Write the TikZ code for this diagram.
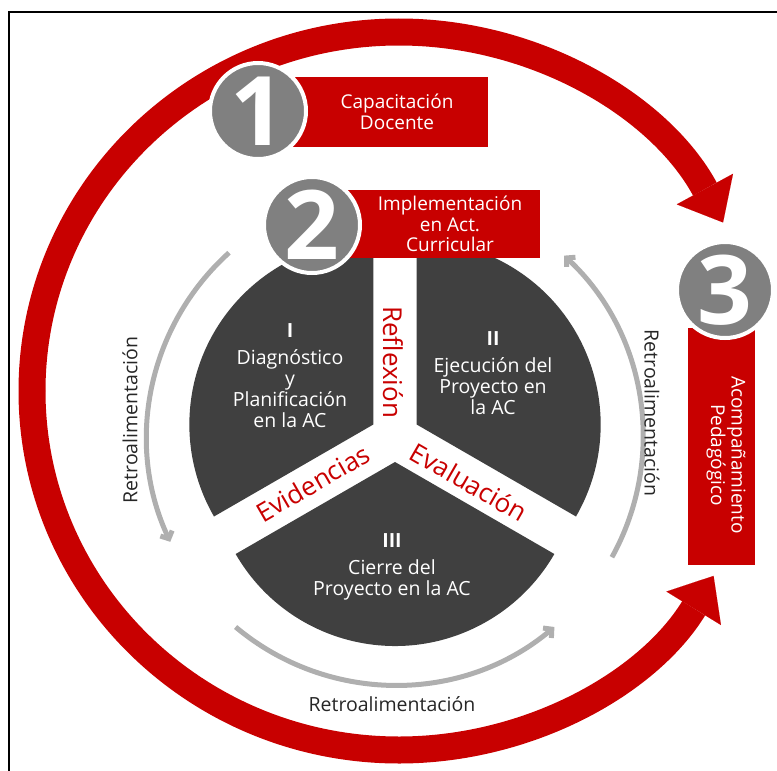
\documentclass[tikz,border=0pt]{standalone}
\usepackage{fontspec}
\setmainfont{Open Sans}
\usepackage{color}
\usetikzlibrary{arrows.meta}

\definecolor{acred}{RGB}{200,0,0}
\definecolor{numgrey}{RGB}{128,128,128}
\definecolor{secgrey}{RGB}{64,64,64}
\definecolor{fbgrey}{RGB}{175,175,175}

\tikzset{
  ring/.style={acred, line width=27pt, -{Triangle[length=38pt,width=64pt,line width=0.01pt]}},
  fback/.style={fbgrey, line width=5pt, -{Straight Barb[length=6pt,width=13pt]}},
  sector/.style={fill=secgrey},
  numcirc/.style={circle, fill=numgrey, draw=white, line width=4pt, minimum size=96pt,
    inner sep=0pt, text=white, font=\fontsize{96}{96}\selectfont\bfseries},
  redbox/.style={fill=acred, inner sep=0pt},
  boxtext/.style={text=white, align=center, font=\fontsize{19}{20.5}\selectfont},
  sectext/.style={text=white, align=center, font=\fontsize{19.5}{21}\selectfont},
  gaptext/.style={text=acred, font=\fontsize{26}{26}\selectfont},
  fbtext/.style={text=black!85, font=\fontsize{19.5}{19.5}\selectfont}
}

\begin{document}
\begin{tikzpicture}[x=1pt,y=1pt]
\useasboundingbox (0,0) rectangle (777,-771);
%% marco
\draw[line width=2.5pt] (9,-771) -- (9,-12) -- (777,-12);
\coordinate (rc) at (399,-391);
\coordinate (pc) at (395,-437);
%% anillo rojo
\draw[ring] (rc) ++(180:367 and 359) arc[start angle=180, end angle=28, x radius=367, y radius=359];
\draw[ring] (rc) ++(180:367 and 359) arc[start angle=180, end angle=329, x radius=367, y radius=359];
%% retroalimentacion
\draw[fback] (pc) ++(132:248) arc[start angle=132, end angle=205, radius=248];
\draw[fback] (pc) ++(230:248) arc[start angle=230, end angle=310, radius=248];
\draw[fback] (pc) ++(331:248) arc[start angle=331, end angle=407, radius=248];
\node[fbtext, rotate=90] (fbl) at (130,-420) {Retroalimentación};
\node[fbtext, rotate=-90] (fbr) at (652,-413) {Retroalimentación};
\node[fbtext] (fbb) at (392,-704) {Retroalimentación};
%% sectores
\fill[sector] (pc) ++(150:25) -- ++(90:184) arc[start angle=90, end angle=210, radius=184] -- cycle;
\fill[sector] (pc) ++(30:25) -- ++(-30:184) arc[start angle=-30, end angle=90, radius=184] -- cycle;
\fill[sector] (pc) ++(270:25) -- ++(210:184) arc[start angle=210, end angle=330, radius=184] -- cycle;
\node[gaptext, rotate=-90] (refl) at (393,-362) {Reflexión};
\node[gaptext, rotate=30] (evid) at (313,-483) {Evidencias};
\node[gaptext, rotate=-30] (eval) at (469,-482) {Evaluación};
\node[sectext] (secI) at (290,-376) {\textbf{I}\\[6pt]Diagnóstico\\y\\Planificación\\en la AC};
\node[sectext] (secII) at (493,-373) {\textbf{II}\\[6pt]Ejecución del\\Proyecto en\\la AC};
\node[sectext] (secIII) at (392,-567) {\textbf{III}\\[6pt]Cierre del\\Proyecto en la AC};
%% etapas
\node[redbox, minimum width=198pt, minimum height=70pt] (box1) at (389,-112) {};
\node[boxtext] (txt1) at (397,-112) {Capacitación\\Docente};
\node[numcirc] (n1) at (258,-111) {1};
\node[redbox, minimum width=195pt, minimum height=68pt] (box2) at (442.5,-224) {};
\node[boxtext] (txt2) at (450,-224) {Implementación\\en Act.\\Curricular};
\node[numcirc] (n2) at (312,-225) {2};
\node[redbox, minimum width=67pt, minimum height=237pt] (box3) at (721.5,-446.5) {};
\node[boxtext, rotate=-90] (txt3) at (726,-455) {Acompañamiento\\Pedagógico};
\node[numcirc] (n3) at (725,-290) {3};

\end{tikzpicture}
\end{document}
